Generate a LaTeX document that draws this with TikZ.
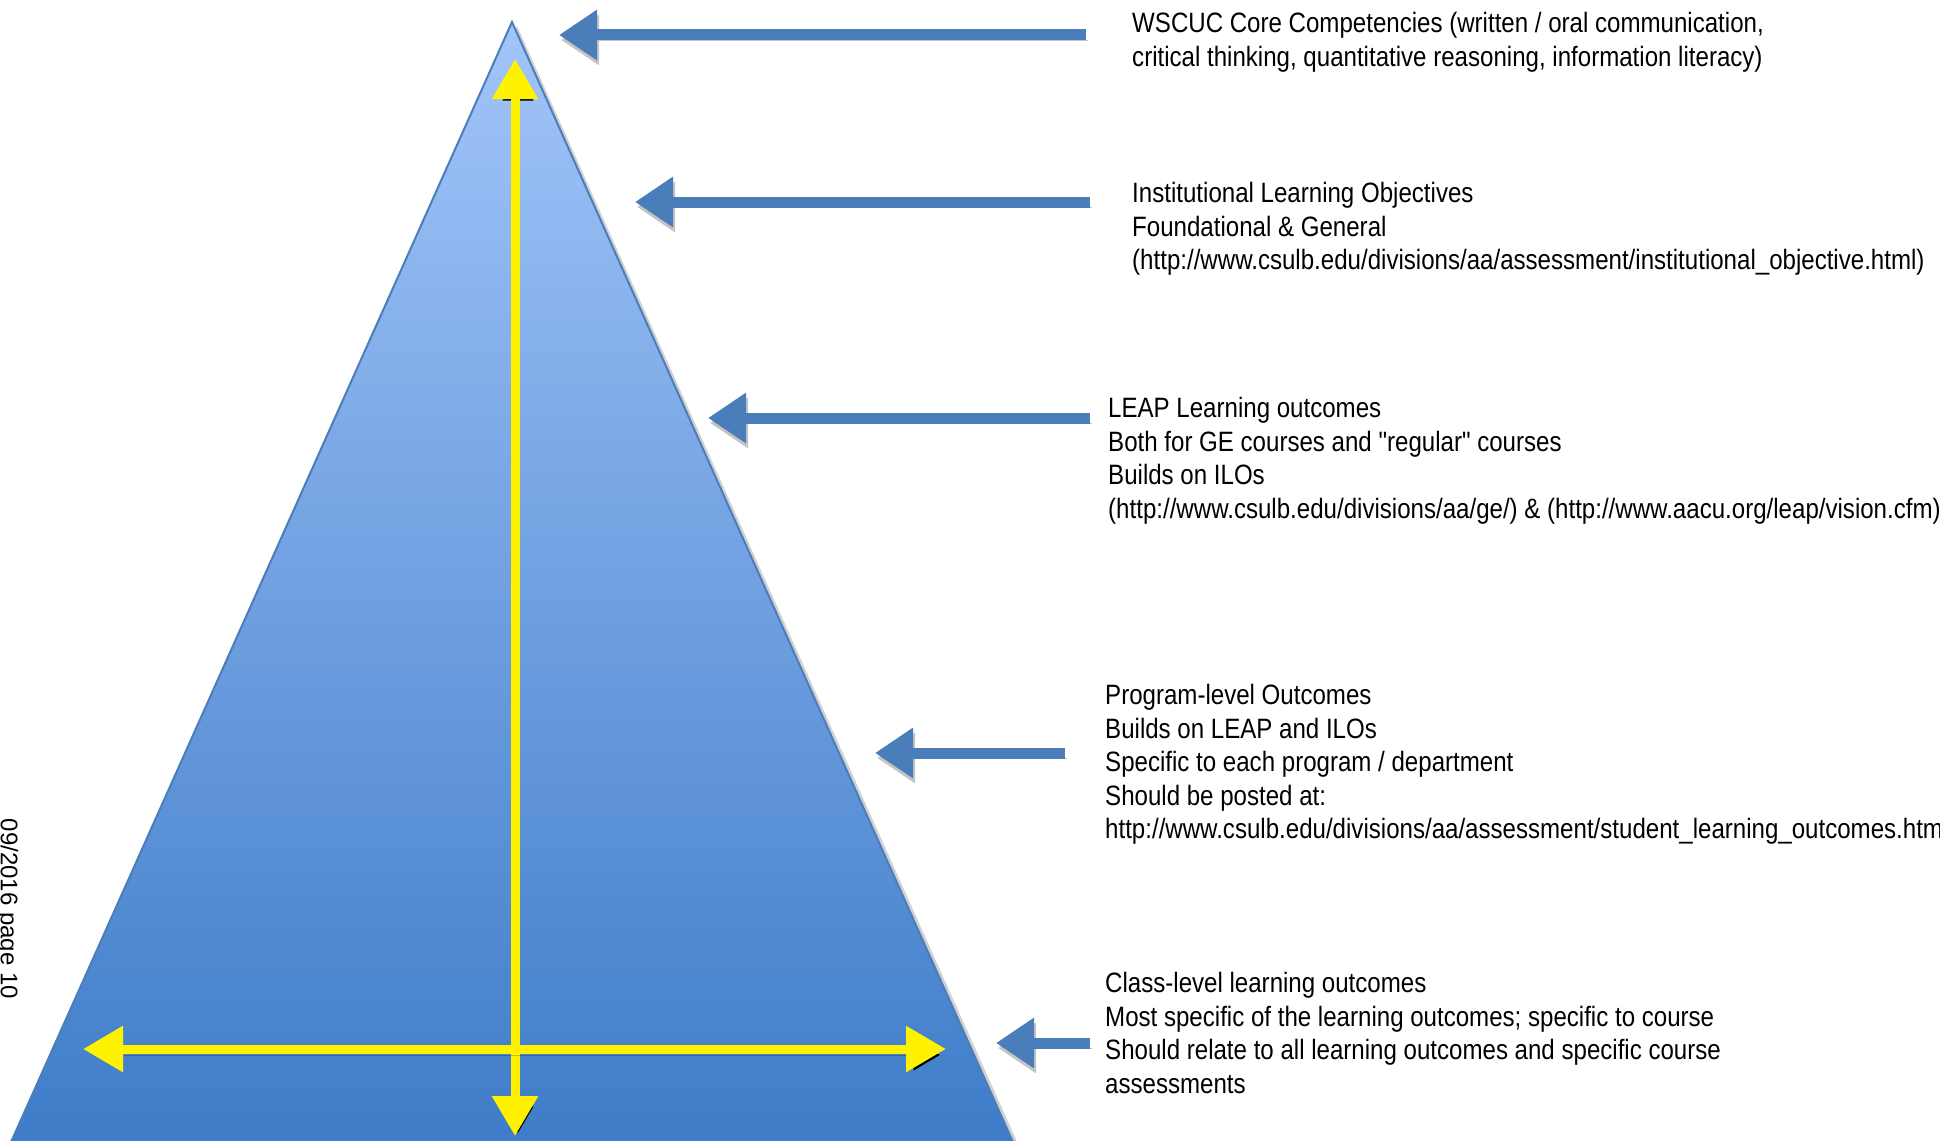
\documentclass[tikz,border=0pt]{standalone}
\usepackage{fontspec}
\setmainfont{Liberation Sans}
\newfontfamily\narrowfont[FakeStretch=0.86]{Liberation Sans}
\usetikzlibrary{arrows.meta}
\definecolor{arrowblue}{HTML}{4A7EBB}
\definecolor{pyrtop}{HTML}{A2C5F9}
\definecolor{pyrbot}{HTML}{3D7BC8}
\definecolor{pyredge}{HTML}{4A7EBB}
\definecolor{shadowgray}{HTML}{C4C4C4}
\tikzset{
  bluearrow/.style={draw=arrowblue, line width=11pt,
    -{Triangle[length=38pt,width=48pt]},
    preaction={draw=shadowgray, transform canvas={shift={(2pt,-5pt)}}}},
  yellowarrow/.style={draw=yellow, line width=9pt,
    {Triangle[length=40pt,width=44pt]}-{Triangle[length=40pt,width=44pt]},
    preaction={draw=black, draw opacity=0.22, transform canvas={shift={(3pt,-6pt)}}}},
  txt/.style={font=\narrowfont\fontsize{28}{33.6}\selectfont, align=left,
    inner sep=0pt, anchor=north west},
}
\begin{document}
\begin{tikzpicture}[x=1pt,y=-1pt]
\fill[white] (0,0) rectangle (1940,1140);
\useasboundingbox (0,0) rectangle (1940,1140);
\clip (0,0) rectangle (1940,1140);

% pyramid shadow and pyramid
\fill[black, opacity=0.18] (517,26) -- (1027,1164) -- (9,1164) -- cycle;
\shade[top color=pyrtop, bottom color=pyrbot, draw=pyredge, line width=2pt]
  (512,22) -- (1021,1160) -- (3,1160) -- cycle;

% yellow arrows
\coordinate (ytop) at (515,59);
\coordinate (ybot) at (515,1136);
\coordinate (yleft) at (83,1049);
\coordinate (yright) at (946,1049);
\draw[yellowarrow] (ybot) -- (ytop);
\draw[yellowarrow] (yleft) -- (yright);

% blue arrows
\coordinate (b1s) at (1086,35);  \coordinate (b1e) at (559,35);
\coordinate (b2s) at (1090,202); \coordinate (b2e) at (635,202);
\coordinate (b3s) at (1090,418); \coordinate (b3e) at (708,418);
\coordinate (b4s) at (1065,753); \coordinate (b4e) at (875,753);
\coordinate (b5s) at (1090,1043); \coordinate (b5e) at (996,1043);
\draw[bluearrow] (b1s) -- (b1e);
\draw[bluearrow] (b2s) -- (b2e);
\draw[bluearrow] (b3s) -- (b3e);
\draw[bluearrow] (b4s) -- (b4e);
\draw[bluearrow] (b5s) -- (b5e);

% texts
\node[txt] (t1) at (1132,12) {WSCUC Core Competencies (written / oral communication,\\critical thinking, quantitative reasoning, information literacy)};
\node[txt] (t2) at (1132,182) {Institutional Learning Objectives\\Foundational \& General\\(http://www.csulb.edu/divisions/aa/assessment/institutional\_objective.html)};
\node[txt] (t3) at (1108,397) {LEAP Learning outcomes\\Both for GE courses and "regular" courses\\Builds on ILOs\\(http://www.csulb.edu/divisions/aa/ge/) \& (http://www.aacu.org/leap/vision.cfm)};
\node[txt] (t4) at (1105,684) {Program-level Outcomes\\Builds on LEAP and ILOs\\Specific to each program / department\\Should be posted at:\\http://www.csulb.edu/divisions/aa/assessment/student\_learning\_outcomes.html};
\node[txt] (t5) at (1105,972) {Class-level learning outcomes\\Most specific of the learning outcomes; specific to course\\Should relate to all learning outcomes and specific course\\assessments};

\node[rotate=-90, anchor=base, inner sep=0pt, font=\fontsize{24}{28}\selectfont] (pg) at (1,909) {09/2016 page 10};
\end{tikzpicture}
\end{document}
